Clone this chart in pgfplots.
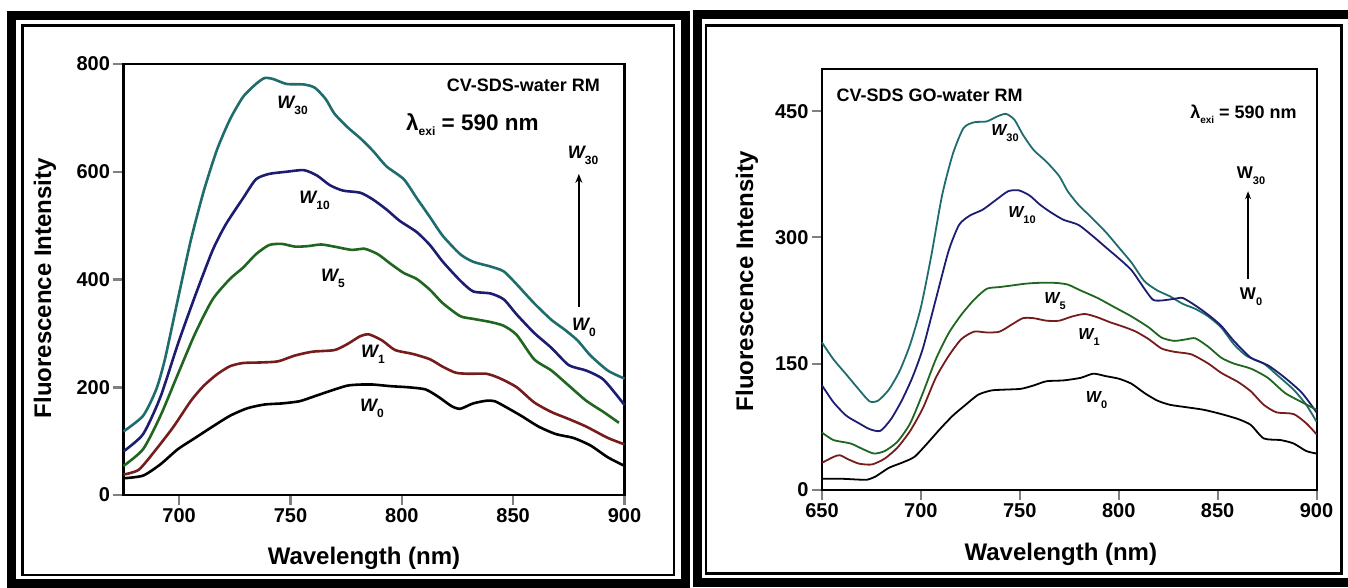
\documentclass[border=0pt]{standalone}
\usepackage{fontspec}
\setmainfont{Liberation Sans}
\usepackage{pgfplots}
\pgfplotsset{compat=1.18}
\usetikzlibrary{arrows.meta}
\definecolor{cteal}{RGB}{30,108,108}
\definecolor{cnavy}{RGB}{28,28,112}
\definecolor{cgreen}{RGB}{32,102,32}
\definecolor{cred}{RGB}{118,28,28}
\newcommand{\wl}[1]{{\fontsize{18}{18}\selectfont\bfseries\itshape W}\raisebox{-6pt}{\bfseries\fontsize{12}{12}\selectfont #1}}
\newcommand{\ws}[1]{{\fontsize{16}{16}\selectfont\bfseries\itshape W}\raisebox{-6pt}{\bfseries\fontsize{11}{11}\selectfont #1}}
\newcommand{\wu}[1]{{\fontsize{17}{17}\selectfont\bfseries W}\raisebox{-6pt}{\bfseries\fontsize{11}{11}\selectfont #1}}

\pgfplotstableread{
x y
675 118
683.8 147
689.7 196
693.6 252
699.4 363
705.3 474
711.1 565
717 641
722.8 697
728.7 739
734.5 763
738.4 774
742.3 772
748.2 763
756 762
760.9 756
765.8 735
769.7 708
775.5 683
781.4 662
787.2 638
793.1 610
800.9 586
806.7 551
812.6 516
818.4 481
826.2 447
832 433
839.9 424
845.8 415
851.6 391
859.4 356
867.2 325
873.1 307
878.9 287
884.7 259
892.5 231
900 216
}\LA
\pgfplotstableread{
x y
675 81
683.8 113
691.6 182
699.4 280
707.2 370
715 454
720.9 502
728.7 551
734.5 586
740.4 596
748.2 600
756 603
761.9 593
767.7 575
773.6 565
781.4 561
787.2 548
793.1 530
799 509
806.7 488
812.6 464
818.4 433
826.2 398
832 378
839.9 374
845.8 363
851.6 335
859.4 301
867.2 273
875 241
882.8 231
890.6 214
900 167
}\LB
\pgfplotstableread{
x y
675 54
683.8 85
691.6 147
699.4 224
707.2 300
715 363
722.8 401
728.7 422
734.5 447
740.4 464
746.2 466
752.1 461
757.9 462
763.8 465
769.7 461
777.5 455
783.3 457
789.2 447
795 429
800.9 412
806.7 401
812.6 381
818.4 356
826.2 332
832 327
839.9 321
845.8 314
851.6 297
859.4 252
867.2 231
875 203
882.8 175
890.6 154
897.5 134
}\LC
\pgfplotstableread{
x y
675 38
681.9 47
689.7 85
697.5 127
705.3 175
711.1 203
717 224
722.8 239
728.7 245
736.5 246
744.3 248
752.1 259
759.9 266
769.7 269
775.5 280
781.4 295
785.3 298
791.1 287
797 269
804.8 262
812.6 252
818.4 238
824.2 227
830.1 225
838 225
843.8 217
851.6 200
859.4 172
867.2 154
875 141
882.8 127
892.5 106
900 94
}\LD
\pgfplotstableread{
x y
675 31
683.8 36
691.6 57
699.4 85
707.2 106
715 127
722.8 147
730.6 161
738.4 168
746.2 170
754 174
759.9 182
767.7 193
775.5 203
781.4 205
787.2 205
795 202
802.8 200
810.6 196
816.5 182
822.3 165
826.2 160
832 170
838 175
841.8 174
847.7 161
853.6 147
861.4 127
869.2 113
877 106
884.7 92
892.5 70
900 54
}\LE

\pgfplotstableread{
x y
650 175
655.8 155
662.3 137
668.7 119
674.1 105
678.4 106
683.8 119
689.2 141
694.6 173
700 217
705.3 279
710.7 350
716.1 399
721.5 430
726.9 437
733.3 438
738.7 444
743 447
747.3 440
751.6 422
757 404
763.5 390
769.9 373
774.2 355
779.6 339
786.1 324
793.6 306
800.1 288
806.5 270
813 248
819.5 237
825.9 230
832.4 221
838.8 215
845.3 206
851.8 193
858.2 173
864.7 159
873.3 150
879.8 137
888.4 119
894.8 101
900 81
}\RA
\pgfplotstableread{
x y
650 124
655.8 104
662.3 88
668.7 79
674.1 72
679.5 70
684.9 84
690.3 106
695.6 133
701 168
707.5 226
714 284
719.3 315
724.7 326
731.2 333
737.6 344
744.1 355
749.5 356
754.9 350
760.2 339
765.6 330
772.1 321
779.6 315
787.2 301
793.6 288
800.1 275
806.5 261
813 239
817.3 226
821.6 225
828.1 227
832.4 228
838.8 219
845.3 208
851.8 195
858.2 177
866.8 157
875.4 148
884.1 133
892.7 115
900 92
}\RB
\pgfplotstableread{
x y
650 68
655.8 59
664.4 55
670.9 48
676.3 43
681.7 46
688.1 57
694.6 79
701 115
707.5 155
714 186
720.4 208
726.9 226
733.3 239
739.8 241
746.3 243
752.7 245
759.2 246
767.8 246
774.2 244
780.7 237
789.3 228
797.9 217
806.5 206
815.2 193
821.6 181
828.1 177
834.5 179
838.8 180
845.3 170
851.8 157
858.2 150
866.8 144
875.4 133
884.1 115
892.7 104
900 95
}\RC
\pgfplotstableread{
x y
650 32
655.8 39
659 41
663.4 36
668.7 31
675.2 30
681.7 37
688.1 50
694.6 70
701 97
707.5 133
714 159
720.4 179
726.9 188
733.3 187
739.8 188
746.3 197
751.6 204
757 204
763.5 201
769.9 201
776.4 206
782.9 209
789.3 205
795.8 199
802.2 194
808.7 188
815.2 179
821.6 168
828.1 164
836.7 161
845.3 150
851.8 139
860.4 128
866.8 117
873.3 101
879.8 92
888.4 90
894.8 79
900 66
}\RD
\pgfplotstableread{
x y
650 13
660.1 13
668.7 12
673 12
677.3 16
683.8 26
690.3 32
696.7 39
703.2 55
709.6 72
716.1 88
722.6 101
729 113
735.5 118
742 119
750.6 120
757 124
763.5 129
772.1 130
780.7 133
787.2 138
793.6 135
800.1 132
806.5 126
813 115
819.5 106
825.9 101
834.5 98
843.1 95
851.8 90
860.4 84
866.8 77
873.3 61
881.9 59
888.4 55
894.8 46
900 43
}\RE

\begin{document}
\begin{tikzpicture}[x=1pt,y=1pt]
\useasboundingbox (0,0) rectangle (1348,587);
\begin{scope}
\clip (0,0) rectangle (1348,587);
\draw[line width=9pt] (11.5,4) rectangle (685.5,571.5);
\draw[line width=2.5pt] (22.5,12) rectangle (674,561.5);
\draw[line width=9pt] (697,5) rectangle (1362,572.5);
\draw[line width=2.5pt] (706,13.5) rectangle (1341.5,561.5);
\end{scope}

\pgfplotsset{
  myaxis/.style={
    anchor=south west, scale only axis,
    xtick pos=bottom, ytick pos=left, tick align=outside,
    major tick length=10pt,
    /pgf/number format/assume math mode=true,
    ticklabel style={font=\bfseries\fontsize{20}{20}\selectfont},
    label style={font=\bfseries\fontsize{24}{24}\selectfont},
    xlabel={Wavelength (nm)}, ylabel={Fluorescence Intensity},
    clip=false,
  }
}

\begin{axis}[myaxis, at={(123.5pt,92pt)}, width=501pt, height=431pt,
  xmin=675, xmax=900, ymin=0, ymax=800,
  xtick={700,750,...,900}, ytick={0,200,...,800},
  axis line style={line width=2.5pt}, tick style={line width=2.5pt},
  xlabel style={at={(axis description cs:0.48,-0.146)}, anchor=center},
  ylabel style={at={(axis description cs:-0.157,0.48)}, anchor=center},
  every axis plot/.append style={line width=2.6pt, smooth, tension=0.4},
]
\addplot[cteal] table {\LA};
\addplot[cnavy] table {\LB};
\addplot[cgreen] table {\LC};
\addplot[cred] table {\LD};
\addplot[black] table {\LE};
\node at (axis cs:750.9,722.6) {\wl{30}};
\node at (axis cs:760.8,547) {\wl{10}};
\node at (axis cs:769.1,402) {\wl{5}};
\node at (axis cs:787,261) {\wl{1}};
\node at (axis cs:786.6,160) {\wl{0}};
\node[anchor=east, font=\bfseries\fontsize{18}{18}\selectfont] at (axis cs:890.5,760) {CV-SDS-water RM};
\node[font=\bfseries\fontsize{22.5}{22.5}\selectfont] at (axis cs:831.7,687) {λ\raisebox{-5pt}{\fontsize{12}{12}\selectfont exi} = 590 nm};
\draw[line width=2.5pt, -{Stealth[length=9pt,width=7pt]}] (axis cs:879.5,349) -- (axis cs:879.5,596);
\node at (axis cs:881.4,631) {\wl{30}};
\node at (axis cs:881.8,311) {\wl{0}};
\end{axis}

\begin{axis}[myaxis, at={(822pt,97.3pt)}, width=494.5pt, height=420.4pt,
  xmin=650, xmax=900, ymin=0, ymax=500,
  xtick={650,700,...,900}, ytick={0,150,300,450},
  axis line style={line width=2pt}, tick style={line width=2pt},
  xlabel style={at={(axis description cs:0.483,-0.153)}, anchor=center},
  ylabel style={at={(axis description cs:-0.1517,0.4964)}, anchor=center},
  every axis plot/.append style={line width=1.8pt, smooth, tension=0.4},
]
\addplot[cteal] table {\RA};
\addplot[cnavy] table {\RB};
\addplot[cgreen] table {\RC};
\addplot[cred] table {\RD};
\addplot[black] table {\RE};
\node at (axis cs:742.5,424) {\ws{30}};
\node at (axis cs:751.1,327) {\ws{10}};
\node at (axis cs:767.8,224) {\ws{5}};
\node at (axis cs:785,181.6) {\ws{1}};
\node at (axis cs:788.8,107) {\ws{0}};
\node[anchor=west, font=\bfseries\fontsize{18}{18}\selectfont] at (axis cs:655.6,468.8) {CV-SDS GO-water RM};
\node[font=\bfseries\fontsize{18}{18}\selectfont] at (axis cs:863.1,446.8) {λ\raisebox{-5pt}{\fontsize{10}{10}\selectfont exi} = 590 nm};
\draw[line width=2pt, -{Stealth[length=8pt,width=6pt]}] (axis cs:865.4,250.6) -- (axis cs:865.4,355);
\node at (axis cs:866.9,373) {\wu{30}};
\node at (axis cs:866.9,229) {\wu{0}};
\end{axis}
\end{tikzpicture}
\end{document}
